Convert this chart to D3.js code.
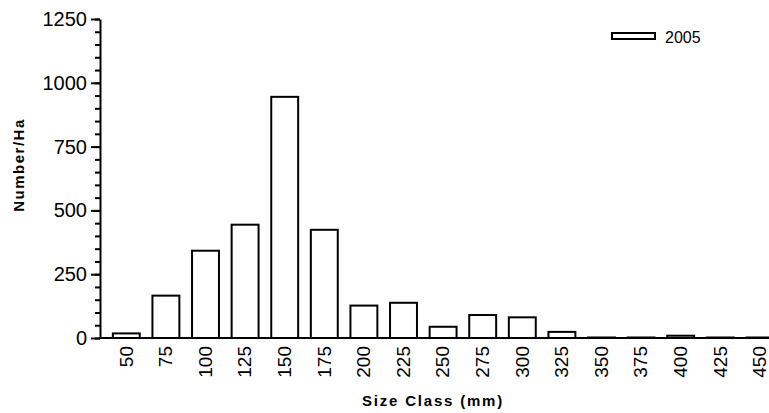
<!DOCTYPE html>
<html>
<head>
<meta charset="utf-8">
<script src="https://cdn.jsdelivr.net/npm/d3@7"></script>
<style>
  body { margin: 0; background: #fff; }
  text { font-family: "Liberation Sans", Arial, sans-serif; }
</style>
</head>
<body>
<script>
const sizeClasses = ["50", "75", "100", "125", "150", "175", "200", "225", "250",
  "275", "300", "325", "350", "375", "400", "425", "450"];
const values2005 = [18, 166, 342, 444, 945, 424, 127, 138, 44, 90, 81, 24, 2, 2, 9, 2, 2];
const yTicks = [0, 250, 500, 750, 1000, 1250];
const seriesName = "2005";

const width = 769, height = 413;

const svg = d3.select("body")
  .append("svg")
  .attr("width", width)
  .attr("height", height);

const x = d3.scaleBand()
  .domain(sizeClasses)
  .range([106.5, 106.5 + 17 * 39.6])
  .paddingInner(0.32)
  .paddingOuter(0.16);

const y = d3.scaleLinear()
  .domain([0, 1250])
  .range([338, 19]);

// bars
svg.selectAll("rect.bar")
  .data(values2005)
  .enter()
  .append("rect")
  .attr("class", "bar")
  .attr("x", (d, i) => x(sizeClasses[i]))
  .attr("y", d => y(d))
  .attr("width", x.bandwidth())
  .attr("height", d => y(0) - y(d))
  .attr("fill", "#fff")
  .attr("stroke", "#000")
  .attr("stroke-width", 2);

// y axis, minor ticks then major
svg.append("g")
  .attr("transform", "translate(100,0)")
  .call(d3.axisLeft(y).tickValues(d3.range(0, 1251, 50)).tickSize(5).tickFormat(""))
  .call(g => g.select(".domain").remove())
  .call(g => g.selectAll("line").attr("stroke-width", 2));

svg.append("g")
  .attr("transform", "translate(100,0)")
  .call(d3.axisLeft(y).tickValues(yTicks).tickSize(9).tickSizeOuter(0).tickPadding(4)
    .tickFormat(d3.format("d")))
  .call(g => g.select(".domain").attr("stroke-width", 2))
  .call(g => g.selectAll("line").attr("stroke-width", 2))
  .call(g => g.selectAll("text")
    .attr("font-size", 20)
    .attr("fill", "#000"));

// x axis
const xAxis = svg.append("g")
  .attr("transform", `translate(0,${y(0)})`)
  .call(d3.axisBottom(x).tickSize(0).tickPadding(0));

xAxis.select(".domain")
  .attr("d", `M99,0H${width}`)
  .attr("stroke-width", 2);

xAxis.selectAll("text")
  .attr("font-size", 19)
  .attr("fill", "#000")
  .attr("text-anchor", "end")
  .attr("dy", "0.33em")
  .attr("transform", "translate(0,8) rotate(-90)")
  .attr("x", 0)
  .attr("y", 0);

// axis titles
svg.append("text")
  .attr("x", 433)
  .attr("y", 406)
  .attr("text-anchor", "middle")
  .attr("font-size", 15)
  .attr("font-weight", "bold")
  .attr("letter-spacing", 1.8)
  .text("Size Class (mm)");

svg.append("text")
  .attr("transform", "translate(24,165) rotate(-90)")
  .attr("text-anchor", "middle")
  .attr("font-size", 15)
  .attr("font-weight", "bold")
  .attr("letter-spacing", 1.5)
  .text("Number/Ha");

// legend
const legend = svg.append("g").attr("transform", "translate(612,33)");
legend.append("rect")
  .attr("width", 43)
  .attr("height", 6)
  .attr("fill", "#fff")
  .attr("stroke", "#000")
  .attr("stroke-width", 2);
legend.append("text")
  .attr("x", 53)
  .attr("y", 10)
  .attr("font-size", 16)
  .text(seriesName);
</script>
</body>
</html>
